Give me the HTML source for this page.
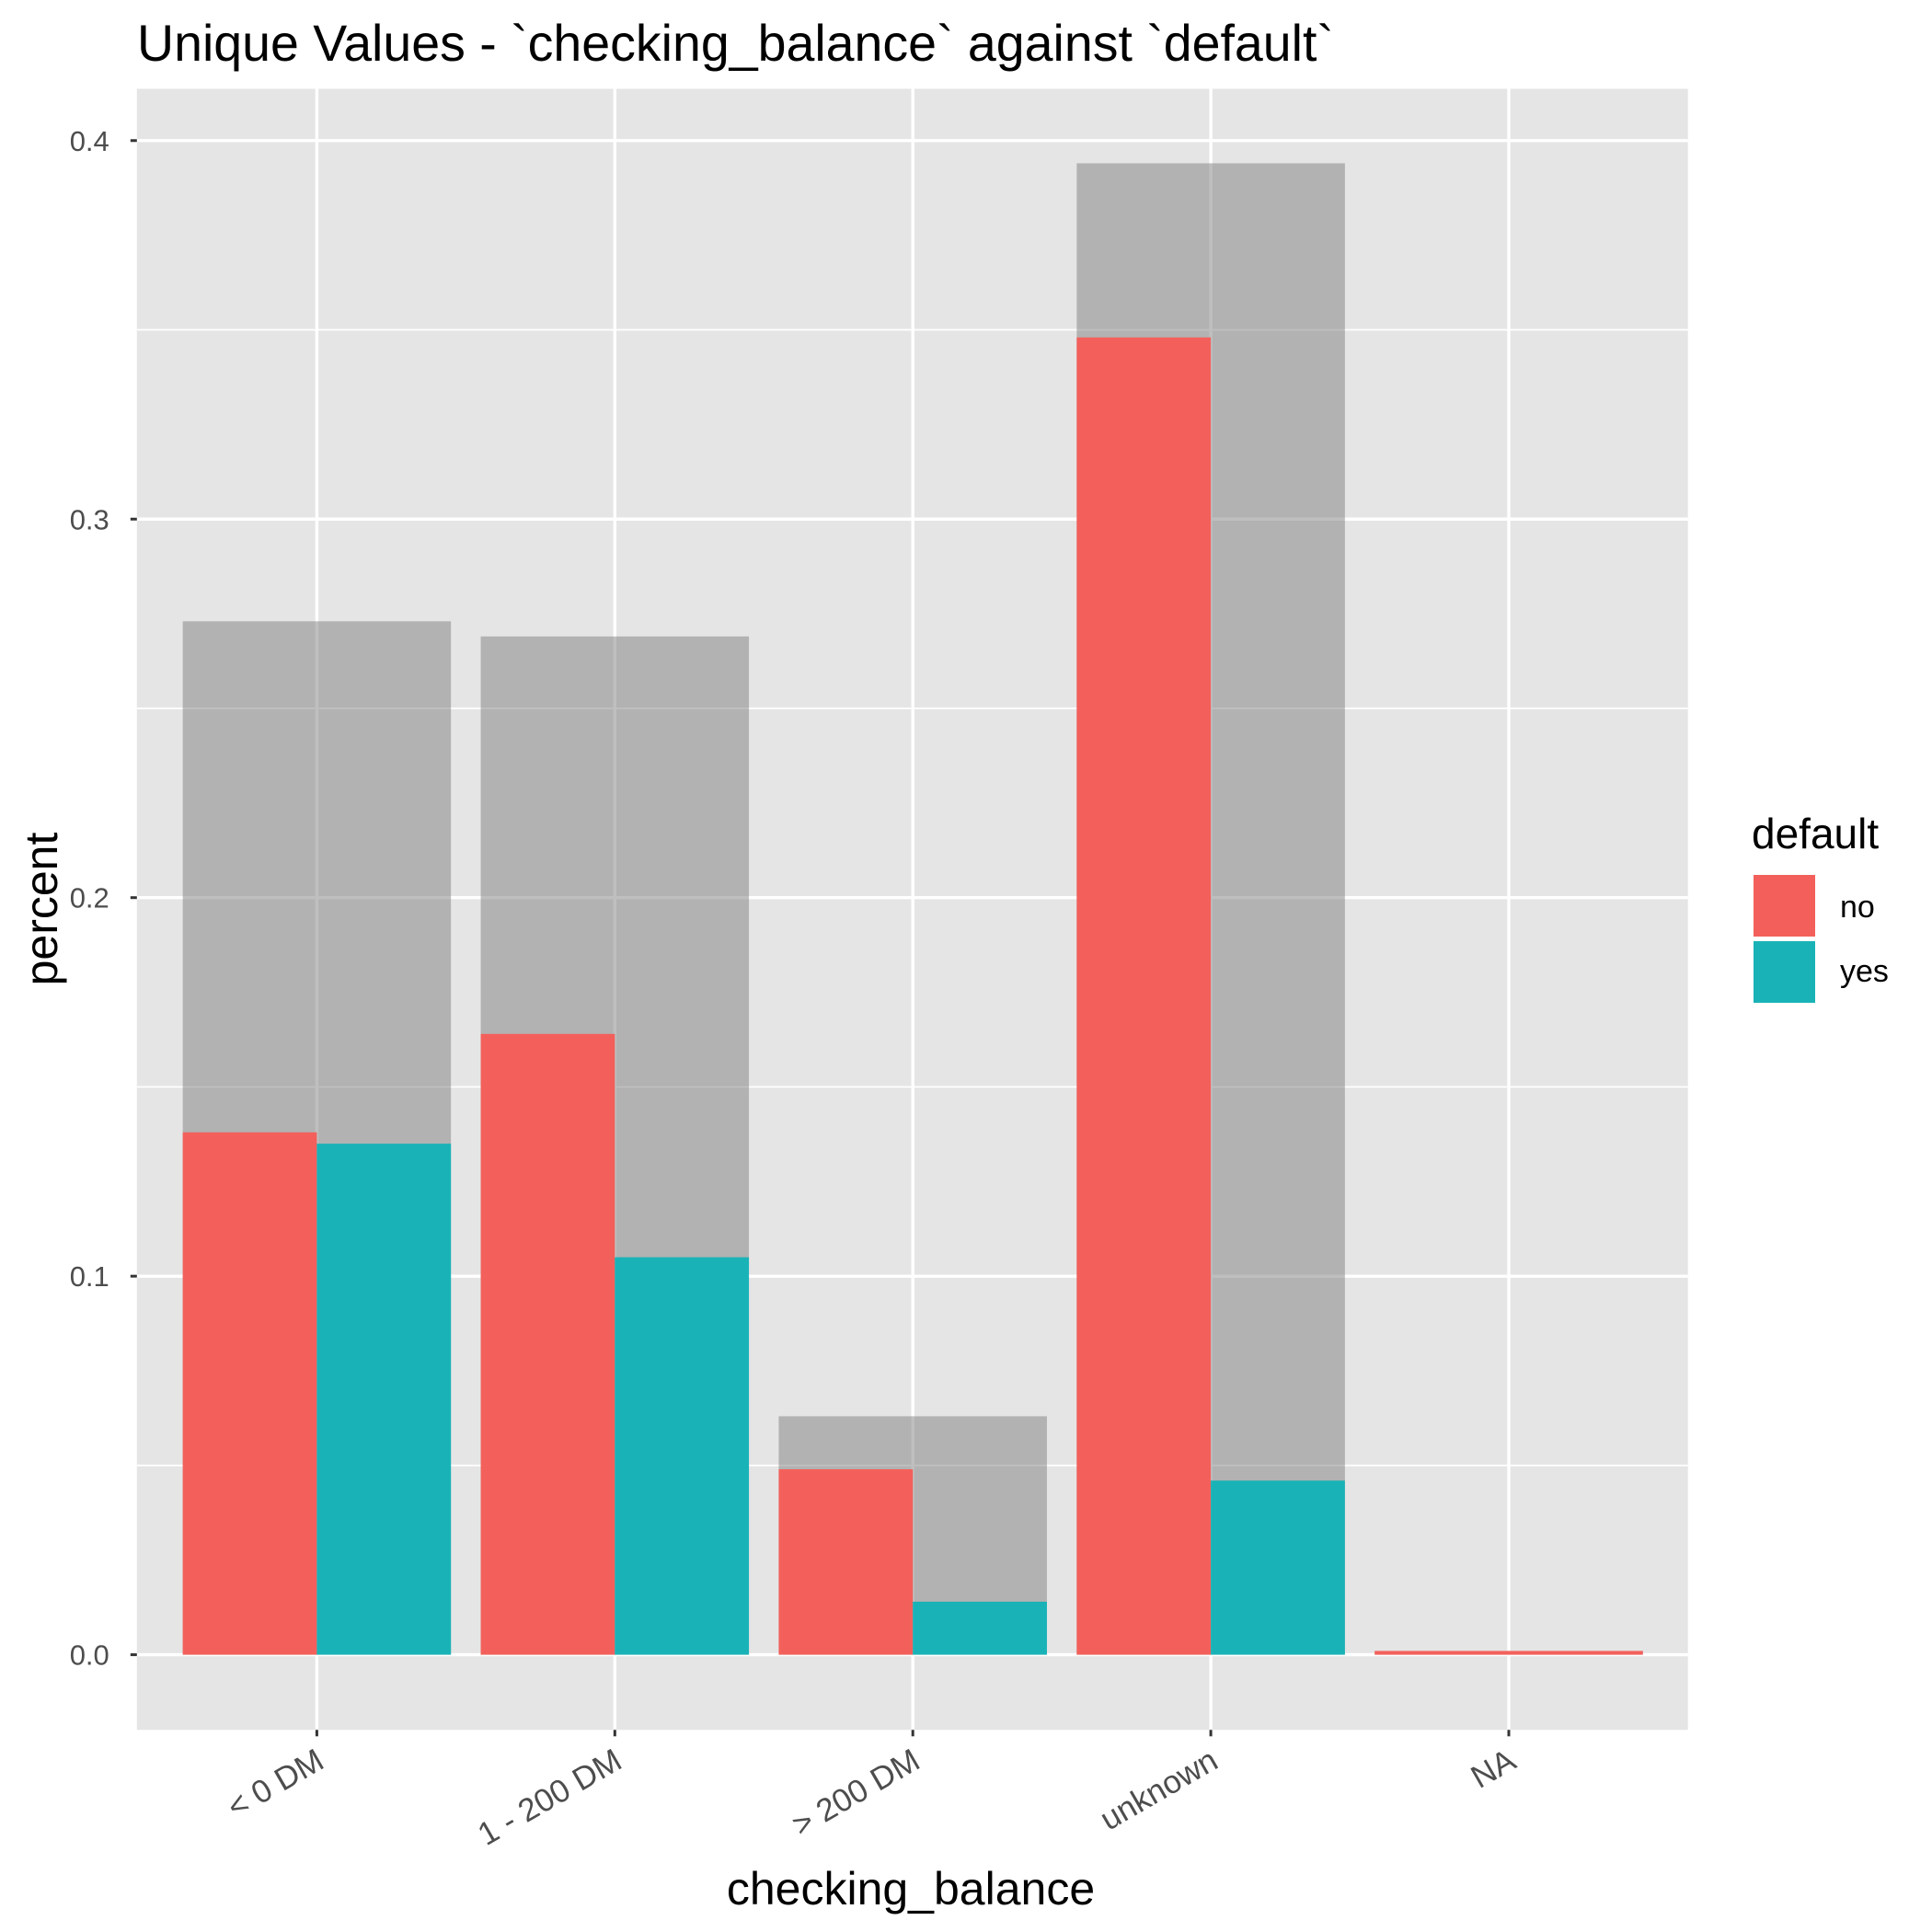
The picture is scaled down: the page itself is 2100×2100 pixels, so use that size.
<!DOCTYPE html>
<html><head><meta charset="utf-8"><style>
html,body{margin:0;padding:0;background:#fff;}
svg{display:block;font-family:"Liberation Sans",Arial,sans-serif;}
</style></head><body>
<svg id="chart" width="2100" height="2100" viewBox="0 0 2100 2100">
<rect x="0" y="0" width="2100" height="2100" fill="#fff"/>
<text x="149" y="66" font-size="55.5" fill="#000">Unique Values - `checking_balance` against `default`</text>
<rect x="148.8" y="96.5" width="1685.9" height="1783.8" fill="#e5e5e5"/>
<g id="grid"></g>
<g id="bars"></g>
<g id="axes"></g>
<text x="990" y="2070" font-size="50" text-anchor="middle" fill="#000">checking_balance</text>
<text transform="translate(62,988) rotate(-90)" font-size="50" text-anchor="middle" fill="#000">percent</text>
<g>
<text x="1904" y="922" font-size="46" fill="#000">default</text>
<rect x="1906" y="951" width="67" height="67" fill="#f3605b"/>
<text x="2000" y="997" font-size="34" fill="#000">no</text>
<rect x="1906" y="1023" width="67" height="67" fill="#19b3b7"/>
<text x="2000" y="1067" font-size="34" fill="#000">yes</text>
</g>
</svg>
<script>
const categories = ["< 0 DM", "1 - 200 DM", "> 200 DM", "unknown", "NA"];
const totalValues = [0.273, 0.269, 0.063, 0.394, 0.001];
const noValues = [0.138, 0.164, 0.049, 0.348, 0.001];
const yesValues = [0.135, 0.105, 0.014, 0.046, null];
const yTicks = [0.0, 0.1, 0.2, 0.3, 0.4];
const yTickLabels = ["0.0", "0.1", "0.2", "0.3", "0.4"];

const NS = "http://www.w3.org/2000/svg";
const px0 = 148.8, px1 = 1834.7, py0 = 96.5, py1 = 1880.3;
const step = 323.9, x1c = 344.4;
const yZero = 1798.6, yScale = 4114.5;
function xPos(i){ return x1c + i*step; }
function yPos(v){ return yZero - v*yScale; }
function mk(tag, attrs, parent){
  const e = document.createElementNS(NS, tag);
  for (const k in attrs) e.setAttribute(k, attrs[k]);
  parent.appendChild(e); return e;
}
const grid = document.getElementById('grid');
const bars = document.getElementById('bars');
const axes = document.getElementById('axes');

for (let i = 0; i < yTicks.length - 1; i++) {
  const y = yPos((yTicks[i] + yTicks[i+1]) / 2);
  const l = mk('line', {x1:px0, x2:px1, y1:y, y2:y, stroke:'#fff', 'stroke-width':1.7}, grid);
  
  
}
yTicks.forEach((t, i) => {
  const y = yPos(t);
  const l = mk('line', {x1:px0, x2:px1, y1:y, y2:y, stroke:'#fff', 'stroke-width':3.4}, grid);
  
  
  const tk = mk('line', {x1:px0-7, x2:px0, y1:y, y2:y, stroke:'#333', 'stroke-width':3}, axes);
  
  
  const tx = mk('text', {x:px0-30, y:y+11, 'font-size':31, fill:'#4d4d4d', 'text-anchor':'end'}, axes);
  tx.textContent = yTickLabels[i];
  
  
});
categories.forEach((c, i) => {
  const x = xPos(i);
  const l = mk('line', {x1:x, x2:x, y1:py0, y2:py1, stroke:'#fff', 'stroke-width':3.4}, grid);
  
  
  const tk = mk('line', {x1:x, x2:x, y1:py1, y2:py1+7, stroke:'#333', 'stroke-width':3}, axes);
  
  
  const tx = mk('text', {x:0, y:0, 'font-size':35, fill:'#4d4d4d', 'text-anchor':'end',
    transform:'translate(' + (x+10) + ',' + (py1+40) + ') rotate(-30)'}, axes);
  tx.textContent = c;
  
  
});

const bw = 0.9 * step;
totalValues.forEach((v, i) => {
  const x = xPos(i) - bw/2;
  const r = mk('rect', {x:x, y:yPos(v), width:bw, height:yPos(0)-yPos(v), fill:'#7f7f7f', 'fill-opacity':0.5}, bars);
  
  
});
categories.forEach((c, i) => {
  const hasYes = yesValues[i] !== null;
  const n = noValues[i];
  if (hasYes) {
    const xl = xPos(i) - bw/2;
    const r1 = mk('rect', {x:xl, y:yPos(n), width:bw/2, height:yPos(0)-yPos(n), fill:'#f3605b'}, bars);
    
    
    const yv = yesValues[i];
    const r2 = mk('rect', {x:xPos(i), y:yPos(yv), width:bw/2, height:yPos(0)-yPos(yv), fill:'#19b3b7'}, bars);
    
    
  } else {
    const h = Math.max(yPos(0)-yPos(n), 2.5);
    const r1 = mk('rect', {x:xPos(i)-bw/2, y:yPos(0)-h, width:bw, height:h, fill:'#f3605b'}, bars);
    
    
  }
});
</script>
</body></html>
